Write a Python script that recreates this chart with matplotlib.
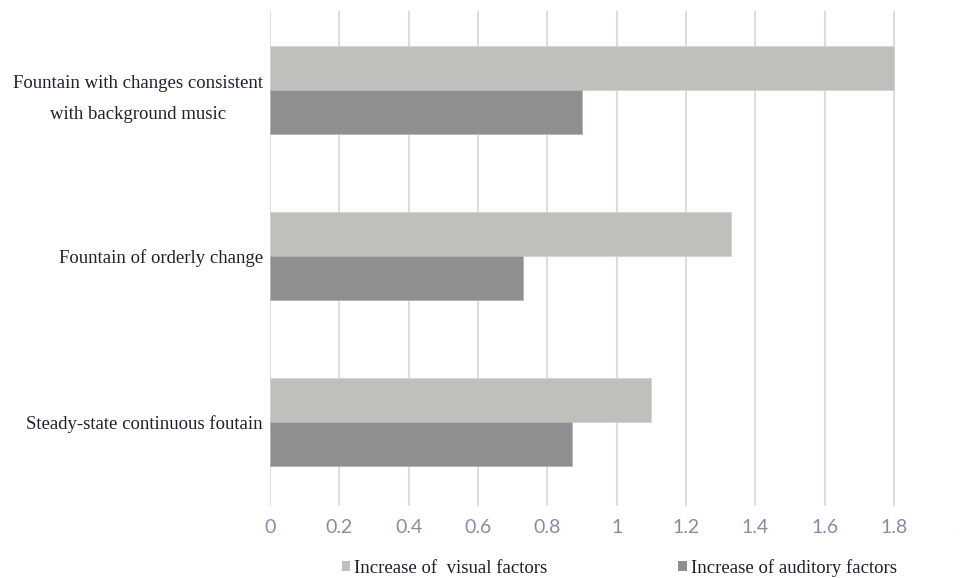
import matplotlib
matplotlib.use("Agg")
import matplotlib.pyplot as plt
import numpy as np

categories = ["Fountain with changes consistent\nwith background music",
              "Fountain of orderly change",
              "Steady-state continuous foutain"]
visual = [1.8, 1.33, 1.1]
auditory = [0.9, 0.73, 0.87]
series_names = ["Increase of  visual factors", "Increase of auditory factors"]
xticks = [0, 0.2, 0.4, 0.6, 0.8, 1, 1.2, 1.4, 1.6, 1.8, 2]
xticklabels = ["0", "0.2", "0.4", "0.6", "0.8", "1", "1.2", "1.4", "1.6", "1.8", "2"]

c_vis = "#c0bfbb"
c_aud = "#8f8f8f"
grid_c = "#dcdbe6"
tick_c = "#8a8aa8"

fig = plt.figure(figsize=(9.6, 5.78), dpi=100)
ax = fig.add_axes([270/960, 1-505.5/578, (963.4-270)/960, (505.5-11)/578])

y = np.arange(len(categories))
h = 0.265
ax.barh(y - h/2, visual, height=h, color=c_vis, edgecolor="#d4d3dc", linewidth=0.6,
        label=series_names[0], zorder=3)
ax.barh(y + h/2, auditory, height=h, color=c_aud, edgecolor="#b4b3c0", linewidth=0.6,
        label=series_names[1], zorder=3)

ax.set_ylim(2.503, -0.476)
ax.set_xlim(0, 2)
ax.set_xticks(xticks)
ax.set_xticklabels(xticklabels)
ax.set_yticks(y)
ax.set_yticklabels(categories, family="Liberation Serif", fontsize=13.5,
                   color="#1f1f30", multialignment="center", linespacing=2.05)
ax.tick_params(axis="y", length=0, pad=5)
ax.tick_params(axis="x", length=0, pad=10, labelsize=14, labelcolor=tick_c)
for lbl in ax.get_xticklabels():
    lbl.set_family(["Lato", "DejaVu Sans"])
ax.grid(axis="x", color=grid_c, linewidth=1.4, zorder=0)
ax.grid(axis="y", visible=False)
for s in ax.spines.values():
    s.set_visible(False)

leg = fig.legend(loc="center", bbox_to_anchor=(0.645, 1-568/578), ncol=2, frameon=False,
                 prop={"family": "Liberation Serif", "size": 13.5},
                 handlelength=0.45, handleheight=0.45, handletextpad=0.2,
                 columnspacing=7.0, labelcolor="#1f1f30")
for p in leg.get_patches():
    p.set_edgecolor("none")

fig.savefig("out.png", dpi=100)
